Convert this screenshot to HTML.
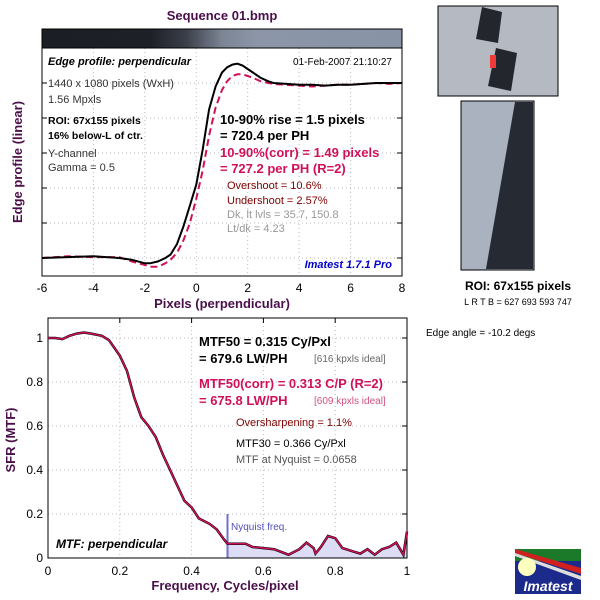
<!DOCTYPE html>
<html><head><meta charset="utf-8"><style>
body{margin:0;background:#fff;width:600px;height:600px;overflow:hidden}
svg{display:block;font-family:"Liberation Sans",sans-serif}
</style></head><body>
<svg id="c" width="600" height="600" viewBox="0 0 600 600">
<defs>
<linearGradient id="grad" x1="0" x2="1" y1="0" y2="0">
<stop offset="0" stop-color="#1c1e26"/><stop offset="0.3" stop-color="#1e2028"/><stop offset="0.4" stop-color="#3a3e48"/><stop offset="0.5" stop-color="#7c8594"/><stop offset="0.6" stop-color="#8c96a8"/><stop offset="1" stop-color="#8893a6"/>
</linearGradient>
</defs>
<text x="222" y="20" font-size="13" font-weight="bold" fill="#4a0f4a" text-anchor="middle">Sequence 01.bmp</text>
<rect x="42" y="29" width="360" height="19" fill="url(#grad)" stroke="#000"/>
<g id="top"></g>
<g id="bot"></g>
<g>
<rect x="438" y="6" width="120" height="90" fill="#b4b9c2" stroke="#000"/>
<polygon points="482,7 502,12 498,43 476,39" fill="#23262d"/>
<polygon points="496,48 517,53 511,91 488,86" fill="#23262d"/>
<rect x="490" y="55" width="6" height="13" fill="#f03a3a"/>
</g>
<g>
<rect x="461" y="101" width="73" height="169" fill="#aab1bf" stroke="#000"/>
<polygon points="515,102 533,102 533,269 486,269" fill="#262a33"/>
</g>
<text x="518" y="290" font-size="12" font-weight="bold" text-anchor="middle">ROI: 67x155 pixels</text>
<text x="518" y="305" font-size="9" text-anchor="middle">L R  T B = 627 693  593 747</text>
<text x="426" y="336" font-size="10">Edge angle = -10.2 degs</text>
<g>
<rect x="515" y="549" width="66" height="45" fill="#1c2a8c"/>
<rect x="515" y="549" width="66" height="12" fill="#1a7a2a"/>
<polygon points="515,549 515,553 581,574 581,568" fill="#d02020"/>
<polygon points="515,553 515,556 581,580 581,576" fill="#ddd"/>
<circle cx="527" cy="567" r="9" fill="#ffffc0"/>
<text x="548" y="591" font-size="14" font-weight="bold" font-style="italic" fill="#fff" text-anchor="middle">Imatest</text>
</g>
</svg>
<script>
const edgeX=[-6,-5,-4,-3,-2.5,-2,-1.8,-1.5,-1.2,-1,-0.75,-0.5,-0.25,0,0.25,0.5,0.75,1,1.2,1.4,1.6,1.8,2,2.2,2.5,2.8,3,3.5,4,4.5,5,5.5,6,6.5,7,7.5,8];
const edgeBlack=[0,0.005,0.01,0,-0.01,-0.03,-0.03,-0.02,0.0,0.02,0.08,0.18,0.3,0.42,0.62,0.85,0.98,1.06,1.09,1.105,1.11,1.1,1.08,1.06,1.03,1.01,1.0,0.995,0.99,0.99,0.985,0.99,0.99,0.995,1.0,1.0,1.0];
const edgeRed=[0,0.01,0.005,0.005,-0.02,-0.04,-0.05,-0.05,-0.03,-0.01,0.03,0.1,0.2,0.34,0.5,0.7,0.86,0.96,1.01,1.04,1.05,1.05,1.04,1.03,1.01,1.0,0.995,0.99,0.985,0.98,0.985,0.99,0.99,0.995,1.0,0.995,1.0];
const edgeTicks=[-6,-4,-2,0,2,4,6,8];
const mtfF=[0,0.02,0.04,0.06,0.08,0.1,0.12,0.15,0.17,0.2,0.22,0.24,0.26,0.28,0.3,0.32,0.34,0.36,0.38,0.4,0.42,0.45,0.47,0.49,0.5,0.53,0.55,0.57,0.6,0.63,0.67,0.7,0.72,0.74,0.745,0.76,0.78,0.8,0.82,0.85,0.87,0.89,0.91,0.93,0.95,0.97,0.99,1.0];
const mtfV=[1.0,1.0,0.995,1.01,1.02,1.025,1.02,1.01,0.99,0.92,0.85,0.73,0.64,0.6,0.55,0.47,0.4,0.33,0.26,0.23,0.18,0.155,0.13,0.085,0.065,0.065,0.065,0.05,0.045,0.04,0.015,0.04,0.07,0.045,0.02,0.05,0.1,0.09,0.045,0.03,0.02,0.04,0.015,0.04,0.05,0.07,0.015,0.12];
const mtfXTicks=[0,0.2,0.4,0.6,0.8,1];
const mtfYTicks=[0,0.2,0.4,0.6,0.8,1];
const NS='http://www.w3.org/2000/svg';
function mk(p,t,a,txt){const e=document.createElementNS(NS,t);for(const k in a)e.setAttribute(k,a[k]);if(txt!=null)e.textContent=txt;p.appendChild(e);return e;}
const T=document.getElementById('top');
const tx=v=>42+(v+6)/14*360, ty=v=>258-v*175;
for(const t of edgeTicks){const x=tx(t);
 const g=mk(T,'line',{x1:x,x2:x,y1:48,y2:276,stroke:'#bbb','stroke-dasharray':'1,3'});
 
 const l=mk(T,'text',{x:x,y:292,'font-size':12,'text-anchor':'middle'},t);
 }
for(let i=0;i<6;i++){const y=83+i*35;
 const g=mk(T,'line',{x1:42,x2:402,y1:y,y2:y,stroke:'#bbb','stroke-dasharray':'1,3'});
 
 mk(T,'line',{x1:42,x2:47,y1:y,y2:y,stroke:'#000'});mk(T,'line',{x1:397,x2:402,y1:y,y2:y,stroke:'#000'});}
const tf=mk(T,'rect',{x:42,y:48,width:360,height:228,fill:'none',stroke:'#000'});

const pr=mk(T,'path',{d:edgeX.map((v,i)=>(i?'L':'M')+tx(v).toFixed(1)+','+ty(edgeRed[i]).toFixed(1)).join(''),fill:'none',stroke:'#d0105a','stroke-width':2,'stroke-dasharray':'7,4'});

const pb=mk(T,'path',{d:edgeX.map((v,i)=>(i?'L':'M')+tx(v).toFixed(1)+','+ty(edgeBlack[i]).toFixed(1)).join(''),fill:'none',stroke:'#000','stroke-width':2});

const TT=[
 [48,65,11,'bold italic','#000','Edge profile: perpendicular','start'],
 [392,65,10,'','#000','01-Feb-2007 21:10:27','end'],
 [48,87,11,'','#333','1440 x 1080 pixels (WxH)','start'],
 [48,103,11,'','#333','1.56 Mpxls','start'],
 [48,124,10.5,'bold','#000','ROI: 67x155 pixels','start'],
 [48,139,10.5,'bold','#000','16% below-L of ctr.','start'],
 [48,157,11,'','#333','Y-channel','start'],
 [48,171,11,'','#333','Gamma = 0.5','start'],
 [220,124,13,'bold','#000','10-90% rise = 1.5 pixels','start'],
 [220,140,13,'bold','#000','= 720.4 per PH','start'],
 [220,157,13,'bold','#d0105a','10-90%(corr) = 1.49 pixels','start'],
 [220,173,13,'bold','#d0105a','= 727.2 per PH  (R=2)','start'],
 [227,189,11,'','#800000','Overshoot = 10.6%','start'],
 [227,204,11,'','#800000','Undershoot = 2.57%','start'],
 [227,218,11,'','#999','Dk, lt lvls = 35.7, 150.8','start'],
 [227,232,11,'','#999','Lt/dk = 4.23','start'],
 [392,268,11,'bold italic','#0000c8','Imatest 1.7.1 Pro','end'],
 [222,308,13,'bold','#4a0f4a','Pixels (perpendicular)','middle']];
for(const [x,y,s,w,c,t,a] of TT){const e=mk(T,'text',{x,y,'font-size':s,fill:c,'text-anchor':a},t);
 if(w.includes('bold'))e.setAttribute('font-weight','bold');if(w.includes('italic'))e.setAttribute('font-style','italic');
 }
const yt=mk(T,'text',{x:0,y:0,'font-size':13,'font-weight':'bold',fill:'#4a0f4a','text-anchor':'middle',transform:'translate(22,162) rotate(-90)'},'Edge profile (linear)');

const B=document.getElementById('bot');
const bx=v=>48+v*359, by=v=>558-v*220;
for(const t of mtfXTicks){const x=bx(t);
 const g=mk(B,'line',{x1:x,x2:x,y1:318,y2:558,stroke:'#bbb','stroke-dasharray':'1,3'});
 
 mk(B,'line',{x1:x,x2:x,y1:318,y2:323,stroke:'#000'});
 const l=mk(B,'text',{x:x,y:575,'font-size':12,'text-anchor':'middle'},t);
 }
for(const t of mtfYTicks){const y=by(t);
 const g=mk(B,'line',{x1:48,x2:407,y1:y,y2:y,stroke:'#bbb','stroke-dasharray':'1,3'});
 
 mk(B,'line',{x1:402,x2:407,y1:y,y2:y,stroke:'#000'});
 const l=mk(B,'text',{x:43,y:y+4,'font-size':12,'text-anchor':'end'},t);
 }
let sh='M'+bx(0.5)+','+by(0);
mtfF.forEach((f,i)=>{if(f>=0.5)sh+='L'+bx(f).toFixed(1)+','+by(mtfV[i]).toFixed(1);});
sh+='L'+bx(1)+','+by(0)+'Z';
const sa=mk(B,'path',{d:sh,fill:'#dcdcf5'});

const nl=mk(B,'line',{x1:bx(0.5),x2:bx(0.5),y1:by(0),y2:by(0.2),stroke:'#7070d0','stroke-width':2});

const bf=mk(B,'rect',{x:48,y:318,width:359,height:240,fill:'none',stroke:'#000'});

const mb=mk(B,'path',{d:mtfF.map((f,i)=>(i?'L':'M')+bx(f).toFixed(1)+','+by(mtfV[i]).toFixed(1)).join(''),fill:'none',stroke:'#000','stroke-width':2.5});

const mr=mk(B,'path',{d:mtfF.map((f,i)=>(i?'L':'M')+bx(f).toFixed(1)+','+by(mtfV[i]).toFixed(1)).join(''),fill:'none',stroke:'#d0105a','stroke-width':1.5});

const BT=[
 [199,346,13,'bold','#000','MTF50 = 0.315 Cy/Pxl','start'],
 [199,363,13,'bold','#000','= 679.6 LW/PH','start'],
 [314,362,10,'','#666','[616 kpxls ideal]','start'],
 [199,388,13,'bold','#d0105a','MTF50(corr) = 0.313 C/P  (R=2)','start'],
 [199,405,13,'bold','#d0105a','= 675.8 LW/PH','start'],
 [314,404,10,'','#d05080','[609 kpxls ideal]','start'],
 [236,426,11,'','#800000','Oversharpening = 1.1%','start'],
 [236,447,11,'','#000','MTF30 = 0.366 Cy/Pxl','start'],
 [236,463,11,'','#555','MTF at Nyquist = 0.0658','start'],
 [231,530,10,'','#5050c0','Nyquist freq.','start'],
 [56,548,12,'bold italic','#000','MTF: perpendicular','start'],
 [225,590,13,'bold','#4a0f4a','Frequency, Cycles/pixel','middle']];
for(const [x,y,s,w,c,t,a] of BT){const e=mk(B,'text',{x,y,'font-size':s,fill:c,'text-anchor':a},t);
 if(w.includes('bold'))e.setAttribute('font-weight','bold');if(w.includes('italic'))e.setAttribute('font-style','italic');
 }
const yt2=mk(B,'text',{x:0,y:0,'font-size':13,'font-weight':'bold',fill:'#4a0f4a','text-anchor':'middle',transform:'translate(15,440) rotate(-90)'},'SFR (MTF)');

</script>
</body></html>
